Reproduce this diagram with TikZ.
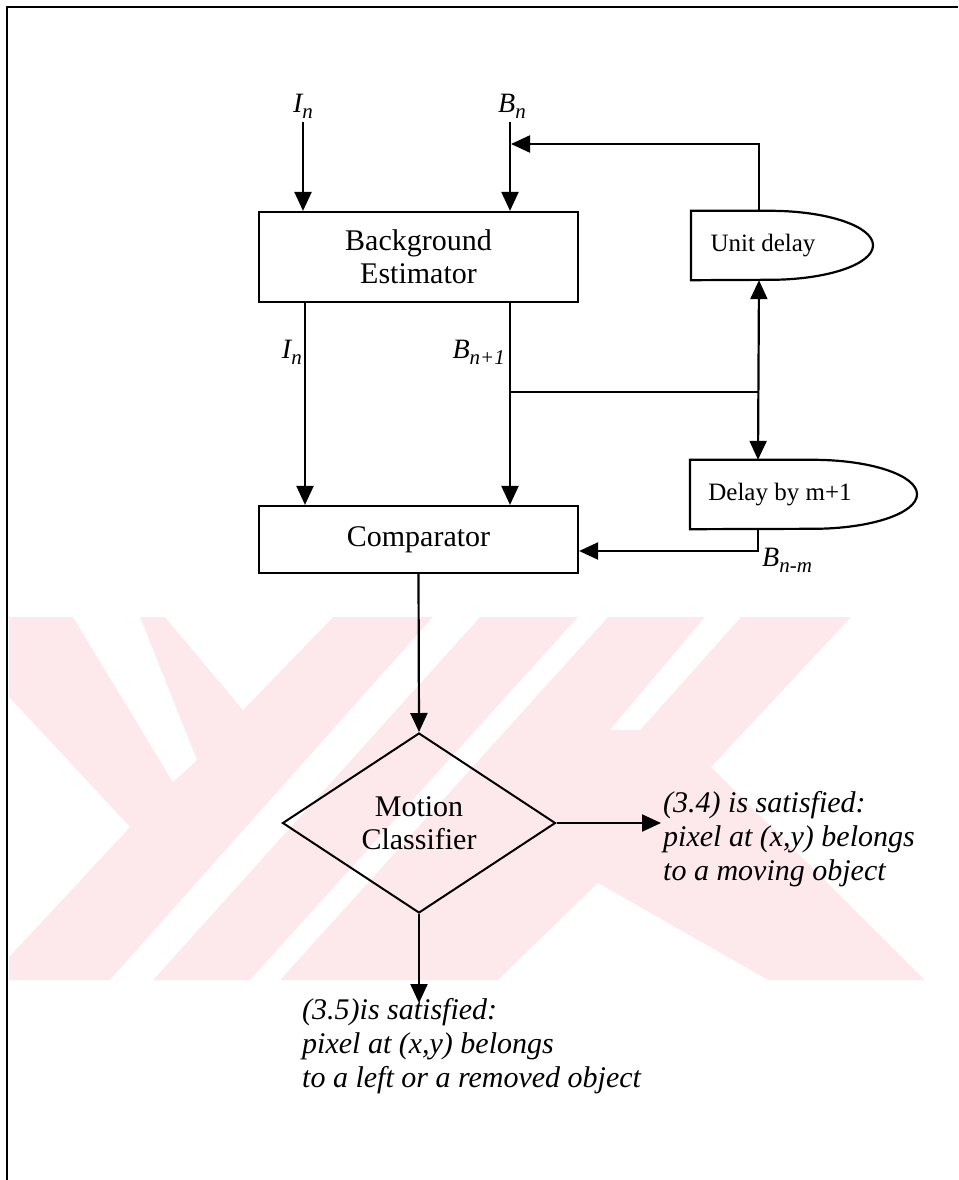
\documentclass[tikz,border=0pt]{standalone}
\usepackage{fontspec}
\setmainfont{Liberation Serif}
\usetikzlibrary{arrows.meta,shapes.geometric,calc}
\definecolor{wm}{HTML}{FDE8EC}
\tikzset{
  conn/.style={line width=2.2pt},
  arr/.style={conn,-{Triangle[length=19pt,width=17pt]}},
  darr/.style={conn,{Triangle[length=19pt,width=17pt]}-{Triangle[length=19pt,width=17pt]}},
  box/.style={draw,line width=2.2pt,align=center,inner sep=0pt,
    font=\fontsize{30}{33}\selectfont},
  dtext/.style={inner sep=0pt,font=\fontsize{25}{30}\selectfont},
  lbl/.style={inner sep=0pt,font=\fontsize{28}{30}\selectfont\itshape},
  res/.style={inner sep=0pt,align=left,font=\fontsize{30}{34}\selectfont\itshape},
}
\newcommand{\sub}[1]{\raisebox{-6pt}{\fontsize{21}{24}\selectfont #1}}
\begin{document}
\begin{tikzpicture}[x=1pt,y=-1pt]
\useasboundingbox (0,0) rectangle (958,1180);
\fill[white] (0,0) rectangle (958,1180);
% watermark (approximate)
\begin{scope}
\clip (9,617) rectangle (958,980);
\fill[wm] (9,617) -- (851,617) -- (711,767) -- (925,980) -- (9,980) -- cycle;
\fill[white] (73,617) -- (140,617) -- (197,760) -- (173,782) -- cycle;
\fill[white] (165,617) -- (333,617) -- (243,710) -- cycle;
\fill[white] (9,697) -- (130,827) -- (9,957) -- cycle;
\fill[white] (433,617) -- (480,617) -- (153,980) -- (110,980) -- cycle;
\fill[white] (578,617) -- (608,617) -- (280,980) -- (250,980) -- cycle;
\fill[white] (705,617) -- (741,617) -- (640,730) -- (610,730) -- cycle;
\fill[white] (498,980) -- (598,883) -- (768,980) -- cycle;
\end{scope}
% frame
\draw[line width=2.4pt] (958,7) -- (7,7) -- (7,1180);
% top labels
\node[lbl] (inl) at (303,106) {I\sub{n}};
\node[lbl] (bnl) at (512,106) {B\sub{n}};
% boxes
\node[box,minimum width=319pt,minimum height=90pt] (be) at (418.5,257) {Background\\Estimator};
\node[box,minimum width=319pt,minimum height=67pt] (cmp) at (418.5,539.5) {Comparator};
% unit delay
\node[inner sep=0pt,minimum width=182pt,minimum height=69pt,anchor=west] (ud) at (691,245.5) {};
\node[dtext] (udt) at (763,245.5) {Unit delay};
\draw[line width=2.2pt] (ud.north west) -- ++(79,0) arc[start angle=90,end angle=-90,x radius=103pt,y radius=34.5pt] -- (ud.south west) -- cycle;
% delay by m+1
\node[inner sep=0pt,minimum width=227pt,minimum height=69pt,anchor=west] (dm) at (690,494.5) {};
\node[dtext] (dmt) at (780,494.5) {Delay by m+1};
\draw[line width=2.2pt] (dm.north west) -- ++(123,0) arc[start angle=90,end angle=-90,x radius=104pt,y radius=34.5pt] -- (dm.south west) -- cycle;
% diamond
\node[draw,diamond,line width=2pt,minimum width=273pt,minimum height=180pt,inner sep=0pt,aspect=1.52,align=center,font=\fontsize{30}{33}\selectfont] (mc) at (419,823) {Motion\\Classifier};
% coordinates
\coordinate (udN) at ($(ud.north west)+(68,0)$);
\coordinate (udS) at ($(ud.south west)+(68,0)$);
\coordinate (dmN) at ($(dm.north west)+(68,0)$);
\coordinate (dmS) at ($(dm.south west)+(68,0)$);
\coordinate (fb) at (511,144);
\coordinate (j1) at (510,392);
\coordinate (j2) at (759,392);
\coordinate (dmc) at (759,551);
% connectors
\draw[arr] (inl.south) ++(0,4) -- (inl.south |- be.north);
\draw[arr] (bnl.south) ++(-2,4) -- ($(bnl.south |- be.north)+(-2,0)$);
\draw[arr] (udN) |- (fb);
\draw[arr] (be.south -| 305,0) -- (cmp.north -| 305,0);
\draw[arr] (be.south -| j1) -- (cmp.north -| j1);
\draw[conn] (j1) -- (j2);
\draw[darr] (udS) -- (dmN);
\draw[arr] (dmS) |- (cmp.east |- dmc);
\draw[arr] (cmp.south) -- (mc.north);
\coordinate (r34) at (661,823);
\coordinate (r35) at (419,1003);
\draw[arr] (mc.east) -- (r34);
\draw[arr] (mc.south) -- (r35);
% labels
\node[lbl,anchor=east] (inl2) at (302,352) {I\sub{n}};
\node[lbl,anchor=east] (bnl2) at (505,352) {B\sub{n+1}};
\node[lbl,anchor=west] (bnm) at (762,560) {B\sub{n-m}};
% result texts
\node[res,anchor=north west] (t34) at (663,791) {(3.4) is satisfied:\\pixel at (x,y) belongs\\to a moving object};
\node[res,anchor=north west] (t35) at (302,998) {(3.5)is satisfied:\\pixel at (x,y) belongs\\to a left or a removed object};
\end{tikzpicture}
\end{document}
